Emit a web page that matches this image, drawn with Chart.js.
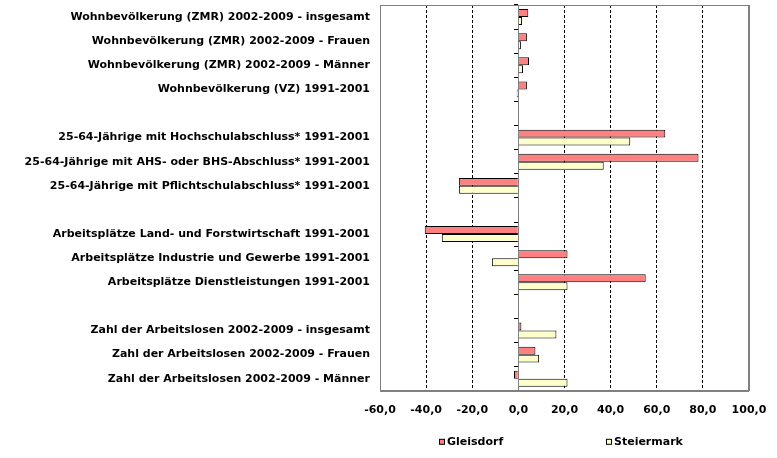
<!DOCTYPE html>
<html>
<head>
<meta charset="utf-8">
<script src="https://cdn.jsdelivr.net/npm/chart.js@4"></script>
<style>
  html, body { margin: 0; padding: 0; background: #fff; }
  #wrap { width: 777px; height: 458px; }
</style>
</head>
<body>
<div id="wrap"><canvas id="chart"></canvas></div>
<script>
const categories = [
  'Wohnbevölkerung (ZMR) 2002-2009 - insgesamt',
  'Wohnbevölkerung (ZMR) 2002-2009 - Frauen',
  'Wohnbevölkerung (ZMR) 2002-2009 - Männer',
  'Wohnbevölkerung (VZ) 1991-2001',
  '',
  '25-64-Jährige mit Hochschulabschluss* 1991-2001',
  '25-64-Jährige mit AHS- oder BHS-Abschluss* 1991-2001',
  '25-64-Jährige mit Pflichtschulabschluss* 1991-2001',
  '',
  'Arbeitsplätze Land- und Forstwirtschaft 1991-2001',
  'Arbeitsplätze Industrie und Gewerbe 1991-2001',
  'Arbeitsplätze Dienstleistungen 1991-2001',
  '',
  'Zahl der Arbeitslosen 2002-2009 - insgesamt',
  'Zahl der Arbeitslosen 2002-2009 - Frauen',
  'Zahl der Arbeitslosen 2002-2009 - Männer'
];
const gleisdorf  = [4.3, 3.7, 4.6, 3.7, null, 63.7, 78.1, -25.8, null, -40.6, 21.3, 55.2, null, 1.3, 7.4, -1.9];
const steiermark = [1.6, 1.1, 2.0, -0.7, null, 48.5, 37.0, -25.8, null, -33.2, -11.5, 21.3, null, 16.5, 9.0, 21.3];
const seriesNames = ['Gleisdorf', 'Steiermark'];
const xMin = -60, xMax = 100, xStep = 20;

const font = { family: 'DejaVu Sans', size: 11, weight: 'bold' };

// drop the label overhang padding so the plot fills its box
const noPad = s => { s.paddingTop = 0; s.paddingBottom = 0; };

// grey frame round the plot area
const frame = {
  id: 'frame',
  beforeDatasetsDraw(chart) {
    const { ctx, chartArea: a } = chart;
    ctx.save();
    ctx.strokeStyle = '#808080';
    ctx.lineWidth = 1;
    ctx.strokeRect(Math.round(a.left) + 0.5, Math.round(a.top) + 0.5,
      Math.round(a.right - a.left) - 1, Math.round(a.bottom - a.top));
    ctx.restore();
  }
};

// legend below the plot, spread like the original
const legendBelow = {
  id: 'legendBelow',
  afterDraw(chart) {
    const { ctx, chartArea: a } = chart;
    const y = a.bottom + 51;
    const xs = [a.left + 59, a.left + 226];
    ctx.save();
    ctx.font = `${font.weight} ${font.size}px ${font.family}`;
    ctx.textBaseline = 'middle';
    chart.data.datasets.forEach((ds, i) => {
      ctx.fillStyle = ds.backgroundColor;
      ctx.strokeStyle = '#000';
      ctx.lineWidth = 1;
      ctx.fillRect(xs[i] + 0.5, y - 2.5, 5, 5);
      ctx.strokeRect(xs[i] + 0.5, y - 2.5, 5, 5);
      ctx.fillStyle = '#000';
      ctx.fillText(ds.label, xs[i] + 8, y);
    });
    ctx.restore();
  }
};

new Chart(document.getElementById('chart'), {
  type: 'bar',
  data: {
    labels: categories,
    datasets: [
      { label: seriesNames[0], data: gleisdorf, backgroundColor: '#FF8080' },
      { label: seriesNames[1], data: steiermark, backgroundColor: '#FFFFCC' }
    ]
  },
  options: {
    indexAxis: 'y',
    responsive: true,
    maintainAspectRatio: false,
    animation: false,
    layout: { padding: { top: 5, right: 28, bottom: 28, left: 0 } },
    datasets: {
      bar: {
        borderColor: '#000',
        borderWidth: 1,
        categoryPercentage: 0.66,
        barPercentage: 1
      }
    },
    plugins: {
      legend: { display: false },
      tooltip: { enabled: false }
    },
    scales: {
      x: {
        min: xMin,
        max: xMax,
        ticks: {
          stepSize: xStep,
          color: '#000',
          font: font,
          padding: 13,
          callback: v => v.toFixed(1).replace('.', ',')
        },
        grid: {
          drawTicks: false,
          color: ctx => {
            const v = ctx.tick && ctx.tick.value;
            if (v === 0) return 'rgba(0,0,0,0)';
            if (v === xMin || v === xMax) return '#808080';
            return '#000';
          }
        },
        border: {
          color: '#808080',
          dash: ctx => {
            const v = ctx.tick && ctx.tick.value;
            return (v === xMin || v === xMax) ? [] : [3, 2];
          }
        },
        afterFit: s => { s.paddingLeft = 0; s.paddingRight = 0; }
      },
      y: {
        ticks: { color: '#000', font: font, padding: 10, autoSkip: false },
        grid: { display: false, drawTicks: false },
        border: { display: false },
        afterFit: s => { s.width = 380; noPad(s); }
      },
      y2: {
        axis: 'y',
        type: 'category',
        position: { x: 0 },
        ticks: { display: false },
        grid: { drawOnChartArea: false, color: '#000', tickLength: 4, offset: true },
        border: { color: '#808080', width: 1 },
        afterFit: noPad
      }
    }
  },
  plugins: [frame, legendBelow]
});
</script>
</body>
</html>
